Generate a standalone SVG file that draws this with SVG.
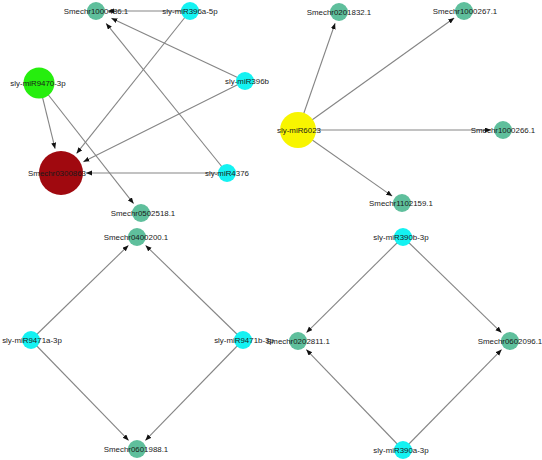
<svg xmlns="http://www.w3.org/2000/svg" width="542" height="460" viewBox="0 0 542 460">
<style>
.e{stroke:#858585;stroke-width:1.1;fill:none;marker-end:url(#ah)}
.t{fill:#5fbf9c}
.c{fill:#14f2f2}
text{font-family:"Liberation Sans",Arial,sans-serif;font-size:7.9px;fill:#1a1a1a;text-anchor:middle}
</style>
<defs>
<marker id="ah" markerUnits="userSpaceOnUse" markerWidth="7" markerHeight="6" refX="6" refY="2.5" orient="auto">
<path d="M0,0 L6,2.5 L0,5 z" fill="#111"/>
</marker>
</defs>
<rect width="542" height="460" fill="#fff"/>
<g id="edges">
<line class="e" x1="190" y1="11" x2="108" y2="11"/>
<line class="e" x1="190" y1="11" x2="76.6" y2="153.4"/>
<line class="e" x1="245" y1="81" x2="111.4" y2="18.2"/>
<line class="e" x1="245" y1="81" x2="83.4" y2="161.8"/>
<line class="e" x1="227" y1="173" x2="106.1" y2="23.4"/>
<line class="e" x1="227" y1="173" x2="86" y2="173"/>
<line class="e" x1="39" y1="83" x2="55.1" y2="148.7"/>
<line class="e" x1="39" y1="83" x2="133.6" y2="203.6"/>
<line class="e" x1="298" y1="130" x2="335.1" y2="23.3"/>
<line class="e" x1="298" y1="130" x2="454.2" y2="18"/>
<line class="e" x1="298" y1="130" x2="491" y2="130"/>
<line class="e" x1="298" y1="130" x2="392.2" y2="196.1"/>
<line class="e" x1="31" y1="340" x2="128.4" y2="245.4"/>
<line class="e" x1="31" y1="340" x2="128.6" y2="440.4"/>
<line class="e" x1="243" y1="340" x2="145.6" y2="245.4"/>
<line class="e" x1="243" y1="340" x2="145.4" y2="440.4"/>
<line class="e" x1="403" y1="237" x2="306.5" y2="332.6"/>
<line class="e" x1="403" y1="237" x2="501.4" y2="332.6"/>
<line class="e" x1="403" y1="450" x2="306.3" y2="349.6"/>
<line class="e" x1="403" y1="450" x2="501.6" y2="349.6"/>
</g>
<g id="n_Smechr1000486"><circle class="t" cx="96" cy="11" r="9"/><text x="96" y="14">Smechr1000486.1</text></g>
<g id="n_miR396a5p"><circle class="c" cx="190" cy="11" r="9"/><text x="190" y="14">sly-miR396a-5p</text></g>
<g id="n_miR9470"><circle cx="39" cy="83" r="15.5" fill="#26ee0e"/><text x="38" y="86">sly-miR9470-3p</text></g>
<g id="n_miR396b"><circle class="c" cx="245" cy="81" r="9"/><text x="247" y="84">sly-miR396b</text></g>
<g id="n_Smechr0300863"><circle cx="61" cy="173" r="22" fill="#a0090f"/><text x="57" y="176">Smechr0300863</text></g>
<g id="n_miR4376"><circle class="c" cx="227" cy="173" r="9"/><text x="227" y="176">sly-miR4376</text></g>
<g id="n_Smechr0502518"><circle class="t" cx="141" cy="213" r="9"/><text x="143" y="216">Smechr0502518.1</text></g>
<g id="n_Smechr0201832"><circle class="t" cx="339" cy="12" r="9"/><text x="339" y="15">Smechr0201832.1</text></g>
<g id="n_Smechr1000267"><circle class="t" cx="464" cy="11" r="9"/><text x="465" y="14">Smechr1000267.1</text></g>
<g id="n_miR6023"><circle cx="298" cy="130" r="18" fill="#f8f500"/><text x="299" y="133">sly-miR6023</text></g>
<g id="n_Smechr1000266"><circle class="t" cx="503" cy="130" r="9"/><text x="503" y="133">Smechr1000266.1</text></g>
<g id="n_Smechr1102159"><circle class="t" cx="402" cy="203" r="9"/><text x="401" y="206">Smechr1102159.1</text></g>
<g id="n_Smechr0400200"><circle class="t" cx="137" cy="237" r="9"/><text x="136" y="240">Smechr0400200.1</text></g>
<g id="n_miR9471a"><circle class="c" cx="31" cy="340" r="9"/><text x="32" y="343">sly-miR9471a-3p</text></g>
<g id="n_miR9471b"><circle class="c" cx="243" cy="340" r="9"/><text x="244" y="343">sly-miR9471b-3p</text></g>
<g id="n_Smechr0601988"><circle class="t" cx="137" cy="449" r="9"/><text x="136" y="452">Smechr0601988.1</text></g>
<g id="n_miR390b"><circle class="c" cx="403" cy="237" r="9"/><text x="401" y="240">sly-miR390b-3p</text></g>
<g id="n_Smechr0202811"><circle class="t" cx="298" cy="341" r="9"/><text x="298" y="344">Smechr0202811.1</text></g>
<g id="n_Smechr0602096"><circle class="t" cx="510" cy="341" r="9"/><text x="510" y="344">Smechr0602096.1</text></g>
<g id="n_miR390a"><circle class="c" cx="403" cy="450" r="9"/><text x="401" y="453">sly-miR390a-3p</text></g>
</svg>
